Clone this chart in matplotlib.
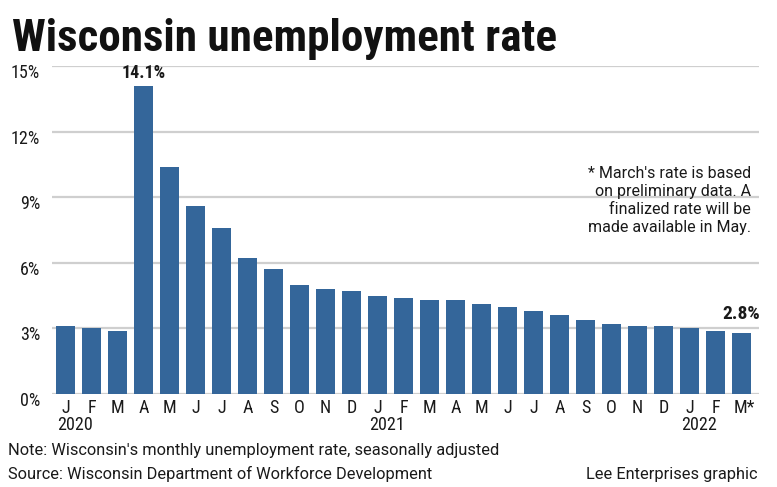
import matplotlib
matplotlib.use("Agg")
import matplotlib.pyplot as plt
from matplotlib import transforms

months = ["J", "F", "M", "A", "M", "J", "J", "A", "S", "O", "N", "D",
          "J", "F", "M", "A", "M", "J", "J", "A", "S", "O", "N", "D",
          "J", "F", "M*"]
rates = [3.1, 3.0, 2.9, 14.1, 10.4, 8.6, 7.6, 6.2, 5.7, 5.0, 4.8, 4.7,
         4.5, 4.4, 4.3, 4.3, 4.1, 4.0, 3.8, 3.6, 3.4, 3.2, 3.1, 3.1,
         3.0, 2.9, 2.8]
years = ["2020", "2021", "2022"]
year_start_idx = [0, 12, 24]
yticks = [0, 3, 6, 9, 12, 15]
ytick_labels = ["0%", "3%", "6%", "9%", "12%", "15%"]
labeled_idx = [3, 26]
labeled_text = ["14.1%", "2.8%"]
labeled_offset = [13, 19]
labeled_size = [13, 14]

W, H = 777, 487
BAR = "#34669a"
GRID = "#cfcfcf"
TXT = "#1a1a1a"
NARROW = ["Roboto Condensed", "DejaVu Sans"]
REG = ["Roboto", "Liberation Sans", "DejaVu Sans"]
ST = "condensed"

fig = plt.figure(figsize=(W / 100, H / 100), dpi=100)
fig.patch.set_facecolor("white")

def fx(px):
    return px / W

def fy(py):
    return 1 - py / H

# axes: left 52px, right 759px, bottom 394px, top 66px
ax = fig.add_axes([fx(52), fy(394), (759 - 52) / W, (394 - 66) / H])
x = list(range(len(rates)))
ax.bar(x, rates, width=0.73, color=BAR, zorder=2)
ax.set_xlim(-0.52, 26.67)
ax.set_ylim(0, 15)
for s in ax.spines.values():
    s.set_visible(False)
ax.set_xticks([])
ax.set_yticks([])
for v in yticks:
    ax.axhline(v, color=GRID, lw=1.6, zorder=1)

# y tick labels (slightly below gridlines)
ytr = transforms.offset_copy(ax.get_yaxis_transform(), fig=fig, x=0, y=-7, units="dots")
for v, lab in zip(yticks, ytick_labels):
    ax.text((40 - 52) / (759 - 52), v, lab, transform=ytr, ha="right", va="center",
            fontsize=13, family=NARROW, fontstretch=ST, color=TXT)

# month labels
mtr = transforms.offset_copy(ax.get_xaxis_transform(), fig=fig, x=0, y=-14, units="dots")
for i, m in enumerate(months):
    ax.text(i + (0.12 if m.endswith("*") else 0), 0, m, transform=mtr, ha="center", va="center",
            fontsize=13, family=NARROW, fontstretch=ST, color=TXT)
ytr2 = transforms.offset_copy(ax.get_xaxis_transform(), fig=fig, x=0, y=-31, units="dots")
for yl, i in zip(years, year_start_idx):
    ax.text(i + 0.35, 0, yl, transform=ytr2, ha="center", va="center",
            fontsize=13, family=NARROW, fontstretch=ST, color=TXT)

# value labels
for i, t, off, sz in zip(labeled_idx, labeled_text, labeled_offset, labeled_size):
    vtr = transforms.offset_copy(ax.transData, fig=fig, x=0, y=off, units="dots")
    ax.text(i, rates[i], t, transform=vtr, ha="center", va="center",
            fontsize=sz, family=NARROW, fontstretch=ST, fontweight="bold", color=TXT, clip_on=False)

# title
fig.text(fx(12), fy(51), "Wisconsin unemployment rate", ha="left", va="baseline",
         fontsize=32.5, family=NARROW, fontstretch=ST, fontweight="black", color="#111111")

# footnote
fig.text(fx(751), fy(166), "* March's rate is based\non preliminary data. A\nfinalized rate will be\nmade available in May.",
         ha="right", va="top", fontsize=11.5, family=REG, color=TXT, linespacing=1.25,
         multialignment="right")

# footer
fig.text(fx(8), fy(450), "Note: Wisconsin's monthly unemployment rate, seasonally adjusted",
         ha="left", va="center", fontsize=11.8, family=REG, color=TXT)
fig.text(fx(8), fy(474), "Source: Wisconsin Department of Workforce Development",
         ha="left", va="center", fontsize=11.8, family=REG, color=TXT)
fig.text(fx(758), fy(474), "Lee Enterprises graphic",
         ha="right", va="center", fontsize=11.8, family=REG, color=TXT)

fig.savefig("out.png", dpi=100, facecolor="white")
